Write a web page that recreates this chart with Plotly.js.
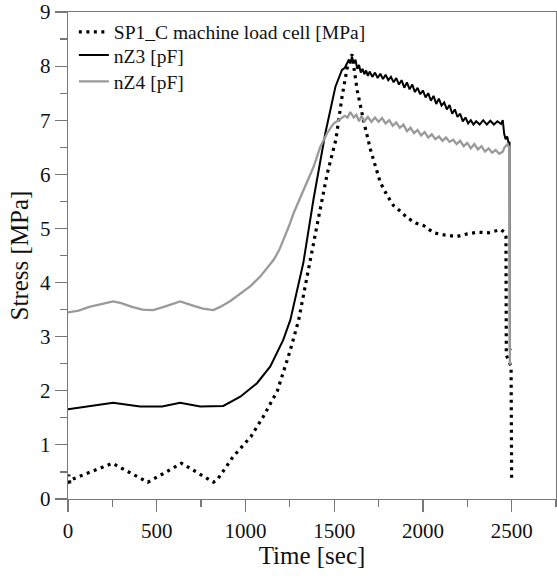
<!DOCTYPE html>
<html>
<head>
<meta charset="utf-8">
<script src="https://cdn.plot.ly/plotly-3.0.1.min.js"></script>
<style>html,body{margin:0;padding:0;background:#fff;}#chart{width:557px;height:578px;}</style>
</head>
<body>
<div id="chart"></div>
<script>
// Series names
const seriesNames = ["SP1_C machine load cell [MPa]", "nZ3 [pF]", "nZ4 [pF]"];

// SP1_C machine load cell [MPa] (time in s, stress)
const sp1Time = [0, 5, 10, 20, 250, 450, 640, 820, 840, 930, 1030, 1100, 1180, 1250, 1300, 1370, 1400, 1460, 1510, 1545, 1575, 1600, 1630, 1665, 1705, 1760, 1800, 1835, 1880, 1910, 1960, 2005, 2060, 2120, 2190, 2250, 2310, 2370, 2440, 2462, 2468, 2470, 2497, 2500];
const sp1Value = [0.28, 0.45, 0.3, 0.36, 0.66, 0.31, 0.66, 0.31, 0.35, 0.78, 1.15, 1.52, 2.0, 2.72, 3.31, 4.45, 5.0, 6.0, 6.65, 7.45, 8.0, 8.22, 7.55, 7.0, 6.45, 5.85, 5.6, 5.42, 5.3, 5.2, 5.1, 5.05, 4.92, 4.88, 4.85, 4.9, 4.93, 4.92, 4.98, 4.92, 4.85, 2.66, 2.45, 0.32];

// nZ3 [pF]
const nz3Time = [0, 120, 254, 406, 530, 632, 745, 875, 971, 1065, 1140, 1213, 1253, 1326, 1383, 1450, 1507, 1544, 1560, 1580, 1592, 1600, 1610, 1620, 1630, 1640, 1650, 1660, 1670, 1680, 1690, 1700, 1715, 1730, 1745, 1760, 1775, 1790, 1805, 1820, 1835, 1850, 1865, 1880, 1895, 1910, 1925, 1940, 1955, 1970, 1985, 2000, 2015, 2030, 2045, 2060, 2075, 2090, 2105, 2120, 2135, 2150, 2165, 2180, 2195, 2210, 2225, 2240, 2255, 2270, 2285, 2300, 2320, 2340, 2360, 2380, 2400, 2420, 2440, 2450, 2458, 2466, 2475, 2483, 2488, 2490, 2497];
const nz3Value = [1.66, 1.72, 1.78, 1.71, 1.71, 1.78, 1.71, 1.72, 1.89, 2.14, 2.45, 2.94, 3.31, 4.36, 5.53, 6.76, 7.62, 7.93, 7.97, 8.1, 8.05, 8.18, 8.05, 8.12, 7.95, 8.02, 7.88, 7.95, 7.85, 7.92, 7.82, 7.9, 7.8, 7.88, 7.78, 7.86, 7.76, 7.84, 7.74, 7.8, 7.7, 7.78, 7.66, 7.74, 7.6, 7.7, 7.57, 7.66, 7.52, 7.6, 7.48, 7.55, 7.42, 7.5, 7.36, 7.45, 7.3, 7.4, 7.27, 7.33, 7.2, 7.28, 7.12, 7.2, 7.06, 7.12, 6.98, 7.05, 6.94, 7.0, 6.92, 6.98, 6.92, 7.0, 6.92, 6.99, 6.92, 6.98, 6.93, 7.0, 6.75, 6.65, 6.7, 6.58, 6.6, 2.75, 2.78];

// nZ4 [pF]
const nz4Time = [0, 60, 120, 190, 254, 300, 360, 420, 480, 540, 632, 700, 760, 819, 858, 915, 971, 1030, 1083, 1125, 1159, 1190, 1215, 1245, 1271, 1300, 1328, 1356, 1384, 1422, 1460, 1497, 1530, 1560, 1575, 1591, 1610, 1625, 1640, 1655, 1670, 1690, 1710, 1730, 1750, 1770, 1790, 1810, 1830, 1850, 1870, 1890, 1910, 1930, 1950, 1970, 1990, 2010, 2030, 2050, 2070, 2090, 2110, 2130, 2150, 2170, 2190, 2210, 2230, 2250, 2270, 2290, 2310, 2330, 2350, 2370, 2390, 2410, 2430, 2450, 2460, 2475, 2488, 2490, 2500];
const nz4Value = [3.45, 3.48, 3.55, 3.6, 3.65, 3.62, 3.55, 3.5, 3.49, 3.55, 3.65, 3.58, 3.52, 3.49, 3.55, 3.66, 3.8, 3.94, 4.11, 4.27, 4.42, 4.6, 4.79, 5.04, 5.28, 5.5, 5.71, 5.92, 6.14, 6.51, 6.76, 6.94, 7.02, 7.08, 7.05, 7.15, 7.05, 7.1, 6.98, 7.08, 6.98, 7.06, 6.97, 7.05, 6.97, 7.04, 6.94, 7.0, 6.9, 6.96, 6.86, 6.92, 6.8, 6.86, 6.76, 6.82, 6.72, 6.78, 6.68, 6.74, 6.65, 6.7, 6.62, 6.68, 6.6, 6.64, 6.56, 6.62, 6.52, 6.58, 6.48, 6.56, 6.46, 6.52, 6.42, 6.48, 6.4, 6.45, 6.38, 6.42, 6.5, 6.55, 6.5, 2.5, 2.5];

const FONT = 'Liberation Serif, Times New Roman, serif';
const AXC = '#777';

const traces = [
  {x: sp1Time, y: sp1Value, name: seriesNames[0], mode: 'lines', legend: 'legend',
   line: {color: '#000', width: 3.2, dash: '3px,4.5px'}},
  {x: nz3Time, y: nz3Value, name: seriesNames[1], mode: 'lines', legend: 'legend2',
   line: {color: '#000', width: 2}},
  {x: nz4Time, y: nz4Value, name: seriesNames[2], mode: 'lines', legend: 'legend3',
   line: {color: '#9a9a9a', width: 2.3}}
];

const axisCommon = {
  showline: true, linecolor: AXC, linewidth: 1.3, mirror: true,
  showgrid: false, zeroline: false,
  ticks: 'outside', ticklen: 12, tickcolor: AXC, tickwidth: 1.2,
  tickfont: {family: FONT, size: 21, color: '#111'}
};

function legendAt(y) {
  return {x: 0.012, y: y, xanchor: 'left', yanchor: 'top',
          bgcolor: 'rgba(0,0,0,0)', borderwidth: 0,
          font: {family: FONT, size: 19.5, color: '#111'}};
}

const layout = {
  width: 557, height: 578,
  margin: {l: 68, r: 1, t: 12, b: 79},
  paper_bgcolor: '#fff', plot_bgcolor: '#fff',
  font: {family: FONT, color: '#111'},
  showlegend: true,
  legend: legendAt(0.9986),
  legend2: legendAt(0.9513),
  legend3: legendAt(0.897),
  xaxis: Object.assign({}, axisCommon, {
    range: [0, 2750], dtick: 500, tick0: 0,
    minor: {dtick: 250, ticks: 'outside', ticklen: 7, tickcolor: AXC, tickwidth: 1.2, showgrid: false},
    title: {text: 'Time [sec]', font: {family: FONT, size: 25, color: '#111'}, standoff: 2}
  }),
  yaxis: Object.assign({}, axisCommon, {
    range: [0, 9], dtick: 1, tick0: 0,
    minor: {dtick: 0.5, ticks: 'outside', ticklen: 7, tickcolor: AXC, tickwidth: 1.2, showgrid: false},
    title: {text: 'Stress [MPa]', font: {family: FONT, size: 25, color: '#111'}, standoff: 4}
  })
};

Plotly.newPlot('chart', traces, layout, {displayModeBar: false, staticPlot: true});
</script>
</body>
</html>
